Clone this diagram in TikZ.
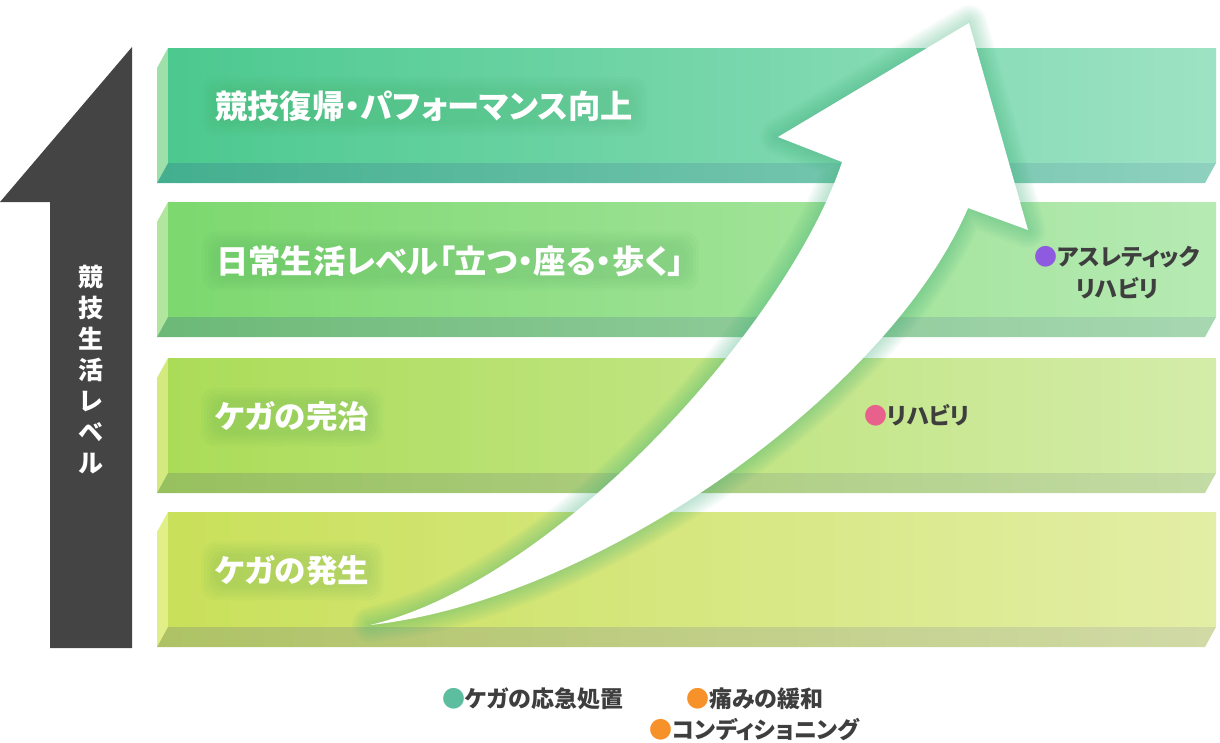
\documentclass[tikz,border=0pt]{standalone}
\usepackage{fontspec}
\setmainfont{Noto Sans CJK JP}[RawFeature=+palt]
\newfontfamily\jpfull{Noto Sans CJK JP}
\pgfdeclarelayer{bg}\pgfdeclarelayer{halo}
\pgfsetlayers{bg,halo,main}
\definecolor{darkarrow}{HTML}{444444}
\definecolor{txtdark}{HTML}{3E3E3E}
\definecolor{aFL}{HTML}{4CC98F}\definecolor{aFR}{HTML}{9DE2C4}
\definecolor{aSL}{HTML}{43AF8E}\definecolor{aSR}{HTML}{8ED1BE}\definecolor{aSD}{HTML}{9FDFA9}
\definecolor{bFL}{HTML}{7DD86F}\definecolor{bFR}{HTML}{B6EAB3}
\definecolor{bSL}{HTML}{6CB977}\definecolor{bSR}{HTML}{A7D7B1}\definecolor{bSD}{HTML}{B2E69E}
\definecolor{cFL}{HTML}{ABDC58}\definecolor{cFR}{HTML}{D4ECA9}
\definecolor{cSL}{HTML}{97C05E}\definecolor{cSR}{HTML}{C3DBA5}\definecolor{cSD}{HTML}{D4EA7E}
\definecolor{dFL}{HTML}{C9E05A}\definecolor{dFR}{HTML}{E3EEA6}
\definecolor{dSL}{HTML}{AEC265}\definecolor{dSR}{HTML}{D1DAA6}\definecolor{dSD}{HTML}{E2EE88}
\definecolor{glowc}{HTML}{3FB07A}
\definecolor{halc}{HTML}{3A9A50}
\definecolor{dotteal}{HTML}{5DBE9F}
\definecolor{dotorange}{HTML}{F7922A}
\definecolor{dotpink}{HTML}{E8608C}
\definecolor{dotpurple}{HTML}{8E5BE0}
\newcommand\drawbar[6]{%
  \fill[#6] (157,#1+20) -- (168,#1) -- (168,#1+115) -- (157,#1+135) -- cycle;
  \shade[left color=#2, right color=#3] (168,#1) rectangle (1216,#1+115);
  \shade[left color=#4, right color=#5] (157,#1+135) -- (168,#1+115) -- (1216,#1+115) -- (1205,#1+135) -- cycle;
}
\newcommand\halo[1]{%
  \foreach \k in {2,5,8,11,14}
    \fill[halc, opacity=0.035, rounded corners=14pt]
      ([xshift=-\k pt, yshift=-\k pt]#1.south west) rectangle ([xshift=\k pt, yshift=\k pt]#1.north east);
}
\begin{document}
\begin{tikzpicture}[x=1pt,y=-1pt,
  barlabel/.style={anchor=west, inner sep=0pt, text=white, font=\fontsize{32.3}{36}\selectfont\bfseries},
  barlabelb/.style={barlabel, font=\fontsize{31.5}{36}\selectfont\bfseries},
  ann/.style={inner sep=0pt, text=txtdark, font=\fontsize{23}{32}\selectfont\bfseries},
  legend/.style={anchor=west, inner sep=0pt, text=txtdark, font=\fontsize{23}{30}\selectfont\bfseries}]
\useasboundingbox (0,0) rectangle (1220,742);
\begin{pgfonlayer}{bg}
% left level arrow
\fill[darkarrow] (132,47) -- (132,648) -- (50,648) -- (50,202) -- (0,202) -- cycle;
% bars
\drawbar{48}{aFL}{aFR}{aSL}{aSR}{aSD}
\drawbar{202}{bFL}{bFR}{bSL}{bSR}{bSD}
\drawbar{358}{cFL}{cFR}{cSL}{cSR}{cSD}
\drawbar{512}{dFL}{dFR}{dSL}{dSR}{dSD}
% big white arrow with glow
\path[save path=\arrowP] (370,625) .. controls (560,580) and (790,320) .. (842,162)
  -- (778,137) -- (969,23) -- (1028,230) -- (968,208)
  .. controls (890,390) and (600,600) .. (370,625) -- cycle;
\foreach \w in {36,32,...,4}
  \draw[use path=\arrowP, draw=glowc, line width=\w pt, opacity=0.045, line join=round];
\fill[white, use path=\arrowP];
\end{pgfonlayer}
\node[inner sep=0pt, text=white, align=center, font=\jpfull\fontsize{25}{31}\selectfont\bfseries] (lvl) at (91,370) {競\\技\\生\\活\\レ\\ベ\\ル};
% bar labels
\node[barlabel] (t1) at (215,106) {競技復帰・パフォーマンス向上};
\node[barlabel] (t2) at (216,261) {日常生活レベル「立つ・座る・歩く」};
\node[barlabelb] (t3) at (215,417) {ケガの完治};
\node[barlabelb] (t4) at (215,571) {ケガの発生};
\begin{pgfonlayer}{halo}
\halo{t1}\halo{t2}\halo{t3}\halo{t4}
\end{pgfonlayer}
% annotations
\node[ann, align=center] (athl) at (1117,273) {{\color{dotpurple}●}アスレティック\\リハビリ};
\node[ann, anchor=west] (reha) at (864,415) {{\color{dotpink}●}リハビリ};
% legend
\node[legend] (l1) at (442,699) {{\color{dotteal}●}ケガの応急処置};
\node[legend] (l2) at (686,699) {{\color{dotorange}●}痛みの緩和};
\node[legend] (l3) at (649,730) {{\color{dotorange}●}コンディショニング};
\end{tikzpicture}
\end{document}
